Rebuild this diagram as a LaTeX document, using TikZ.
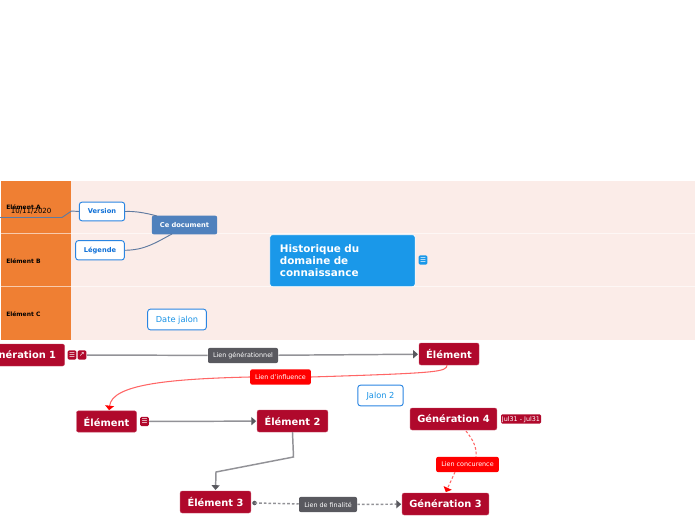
\documentclass[tikz,border=0pt]{standalone}
\usepackage{fontspec}
\setmainfont{DejaVu Sans}
\usetikzlibrary{arrows.meta}
\usetikzlibrary{calc}
\definecolor{BandPink}{HTML}{FBECE8}
\definecolor{BandOrange}{HTML}{EF7F33}
\definecolor{DocBlue}{HTML}{4F81BD}
\definecolor{MainBlue}{HTML}{1A98E9}
\definecolor{LinkBlue}{HTML}{0F70D7}
\definecolor{NoteEdge}{HTML}{2A85E2}
\definecolor{GenRed}{HTML}{B0092C}
\definecolor{LinkGrey}{HTML}{59595F}
\definecolor{LineGrey}{HTML}{929297}
\definecolor{NavyLine}{HTML}{5F7AA0}
\tikzstyle{BandNode}=[rectangle, fill=BandPink, anchor=north west, minimum width=468pt, minimum height=40pt, inner sep=0pt]
\tikzstyle{SideNode}=[rectangle, fill=BandOrange, anchor=north west, minimum width=52pt, minimum height=40pt, inner sep=0pt]
\tikzstyle{SideText}=[anchor=west, inner sep=0pt, font=\bfseries\fontsize{4.5}{6}\selectfont]
\tikzstyle{BandLine}=[white, opacity=0.6, line width=0.8pt]
\tikzstyle{NoteNode}=[rectangle, rounded corners=2pt, draw=NoteEdge, fill=white, line width=0.7pt, inner sep=0pt, text=LinkBlue, text height=3.8pt, text depth=0.4pt]
\tikzstyle{BoldNote}=[NoteNode, font=\bfseries\fontsize{5}{6}\selectfont]
\tikzstyle{PlainNote}=[NoteNode, text=MainBlue!85!LinkBlue, font=\fontsize{6.2}{7}\selectfont, text height=4.4pt, text depth=0.6pt]
\tikzstyle{GenNode}=[rectangle, rounded corners=1.5pt, fill=GenRed, draw=GenRed!75!white, line width=0.3pt, text=white, inner sep=0pt, font=\bfseries\fontsize{7.4}{9}\selectfont]
\tikzstyle{IconNode}=[rectangle, rounded corners=1pt, fill=GenRed, text=white, inner sep=0pt, minimum width=6.6pt, minimum height=6.9pt, font=\fontsize{5}{5}\selectfont]
\tikzstyle{GreyLabel}=[rectangle, rounded corners=1.5pt, fill=LinkGrey, text=white, inner sep=0pt, font=\fontsize{4.8}{6}\selectfont]
\tikzstyle{RedLabel}=[GreyLabel, fill=red]
\tikzstyle{GreyEdge}=[LineGrey, line width=1.1pt]
\tikzstyle{GreyArrow}=[GreyEdge, -{Triangle[length=3.6pt, width=6pt, color=LinkGrey]}, shorten >=0.6pt]
\tikzstyle{RedEdge}=[red!60!white, line width=0.8pt]
\tikzstyle{RedArrow}=[RedEdge, -{Triangle[length=3.4pt, width=6.6pt, color=red]}, shorten >=0.6pt]
\tikzstyle{ShortDash}=[dash pattern=on 2pt off 1.5pt]
\tikzstyle{NavyEdge}=[NavyLine, line width=0.7pt]
\begin{document}
\begin{tikzpicture}[x=0.75pt, y=-0.75pt]
\useasboundingbox (0,0) rectangle (696,520);
\node[BandNode](BANDA) at (71,181) {};
\node[BandNode](BANDB) at (71,233.7) {};
\node[BandNode](BANDC) at (71,286.7) {};
\node[SideNode](SIDEA) at (1,181) {};
\node[SideNode](SIDEB) at (1,233.7) {};
\node[SideNode](SIDEC) at (1,286.7) {};
\draw[BandLine](SIDEB.north west) -- (BANDB.north east);
\draw[BandLine](SIDEC.north west) -- (BANDC.north east);
\node[SideText](TEXTA) at (6,207) {Elément A};
\node[SideText](TEXTB) at (6,261) {Elément B};
\node[SideText](TEXTC) at (6,314) {Elément C};
\node[anchor=west, inner sep=0pt, font=\fontsize{5.3}{6}\selectfont](DATE) at (10.5,211) {10/11/2020};
\coordinate(LEFTEND) at (0,217.5);
\coordinate(LEFTBEND) at (62,217.5);
\coordinate(LEFTRISE) at (71.5,211);

\node[BoldNote, minimum width=34pt, minimum height=14pt](VERSION) at (102,211.5) {Version};
\node[BoldNote, minimum width=36.5pt, minimum height=14.5pt](LEGENDE) at (100,250.3) {Légende};
\node[rectangle, rounded corners=1.5pt, fill=DocBlue, text=white, inner sep=0pt, minimum width=49pt, minimum height=14pt, font=\bfseries\fontsize{5}{6}\selectfont](DOC) at (184.5,225) {Ce document};
\node[PlainNote, minimum width=44pt, minimum height=15.5pt](DATEJALON) at (177,319.5) {Date jalon};
\node[rectangle, rounded corners=2pt, fill=MainBlue, draw=white, line width=0.5pt, text=white, inner sep=0pt, minimum width=109pt, minimum height=39pt, text width=94pt, align=left, font=\bfseries\fontsize{7.8}{9}\selectfont](MAIN) at (342.5,260.7) {Historique du\\domaine de\\connaissance};
\node[IconNode, fill=MainBlue](MAINICON) at (423,260) {☰};

\node[GenNode, minimum width=66.75pt, minimum height=16.5pt](GEN1) at (20,355) {Génération 1};
\node[IconNode](GENICONA) at (72,355) {☰};
\node[IconNode](GENICONB) at (82,355) {↗};
\node[GenNode, minimum width=45pt, minimum height=16.5pt](ELEM0) at (449,354) {Élément};
\node[GreyLabel, minimum width=52.5pt, minimum height=11.5pt](LIENGEN) at (243,355.5) {Lien générationnel};
\node[RedLabel, minimum width=45.5pt, minimum height=11.5pt](LIENINF) at (280.5,377) {Lien d'influence};
\node[PlainNote, minimum width=34pt, minimum height=15.5pt](JALON) at (380.5,395.5) {Jalon 2};
\node[GenNode, minimum width=45pt, minimum height=16pt](ELEM) at (106.5,421.5) {Élément};
\node[IconNode](ELEMICON) at (144.5,421.5) {☰};
\node[GenNode, minimum width=53pt, minimum height=16.5pt](ELEM2) at (292.5,421) {Élément 2};
\node[GenNode, minimum width=65pt, minimum height=16.5pt](GEN4) at (453.5,419) {Génération 4};
\node[rectangle, rounded corners=1pt, fill=GenRed, text=white, inner sep=0pt, minimum width=30pt, minimum height=7pt, text height=3.6pt, text depth=0.4pt, font=\fontsize{4.8}{5}\selectfont](DATES) at (521,419) {Jul31 - Jul31};
\node[RedLabel, minimum width=47pt, minimum height=11.5pt](LIENCON) at (467.5,464.5) {Lien concurence};
\node[GenNode, minimum width=53pt, minimum height=16.5pt](ELEM3) at (215.5,502) {Élément 3};
\node[GenNode, minimum width=65pt, minimum height=16.5pt](GEN3) at (445.5,504) {Génération 3};
\node[GreyLabel, minimum width=43.5pt, minimum height=11.5pt](LIENFIN) at (328,504.5) {Lien de finalité};
\coordinate(ELEMTHREEDOT) at (254.5,503);
\fill[LinkGrey](ELEMTHREEDOT) circle (1.7pt);
\coordinate(GENFOUROUT) at (466,431);
\coordinate(CONCIN) at (476,457);
\coordinate(CONCOUT) at (455,472);
\coordinate(DOCIN) at (172,234);
\coordinate(DOCTOP) at (157,216);
\coordinate(ELEMOUT) at (447,365);
\coordinate(ELEMIN) at (109,411);
\coordinate(ELEMTWOKNEE) at (293.5,457);
\coordinate(ELEMTHREEKNEE) at (216,472);

\draw[NavyEdge](LEFTEND) -- (LEFTBEND) -- (LEFTRISE) -- (VERSION.west);
\draw[NavyEdge](VERSION.east) .. controls (135,211) and (146,213) .. (DOCTOP);
\draw[NavyEdge](LEGENDE.east) .. controls (145,250) and (155,243) .. (DOCIN);
\draw[GreyEdge](GENICONB) -- (LIENGEN);
\draw[GreyArrow](LIENGEN) -- (ELEM0);
\draw[GreyArrow](ELEMICON) -- (ELEM2);
\draw[GreyArrow](ELEM2.south) -- (ELEMTWOKNEE) -- (ELEMTHREEKNEE) -- (ELEM3.north);
\draw[GreyEdge, ShortDash](ELEMTHREEDOT) -- (LIENFIN);
\draw[GreyArrow, ShortDash](LIENFIN) -- (GEN3);
\draw[RedEdge](ELEMOUT) .. controls (447,372) and (438,373) .. (LIENINF.east);
\draw[RedArrow](LIENINF.west) .. controls (165,379) and (112,385) .. (ELEMIN);
\draw[RedEdge, ShortDash](GENFOUROUT) .. controls (473,440) and (477,447) .. (CONCIN);
\draw[RedArrow, ShortDash](CONCOUT) -- (GEN3.north);
\end{tikzpicture}
\end{document}
